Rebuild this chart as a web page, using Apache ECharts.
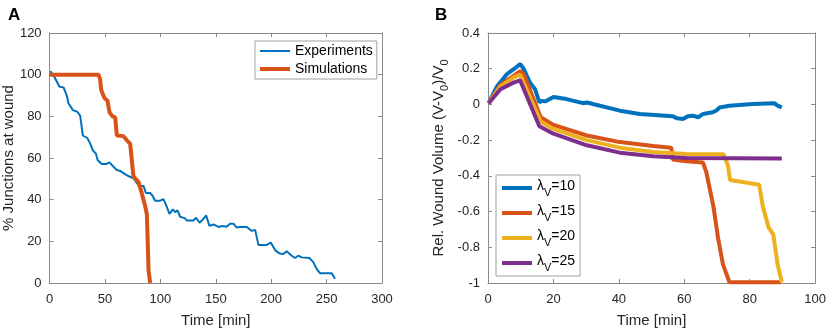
<!DOCTYPE html>
<html>
<head>
<meta charset="utf-8">
<script src="https://cdn.jsdelivr.net/npm/echarts@6/dist/echarts.min.js"></script>
<style>
  html, body { margin: 0; padding: 0; background: #fff; }
  #chart { width: 829px; height: 333px; }
</style>
</head>
<body>
<div id="chart"></div>
<script>
// Panel A: % junctions at wound
const expTime = [0.6, 3.6, 5, 9, 12.6, 15.6, 17, 21, 25, 27.6, 30, 34, 36.7, 39, 41.8, 43.3, 47, 51, 54, 57.7,
  60.7, 63.7, 68, 72, 75.7, 78.8, 81.8, 84.8, 86.9, 90.8, 92.9, 95.3, 99.8, 102.8, 105, 108.2, 111.2, 113.3, 115.4, 117.8,
  122.3, 123.8, 129.8, 132.2, 135.3, 138.3, 141.3, 144.3, 147.9, 152.4, 156.3, 159.9, 162.9, 165.9, 168.9, 171.9, 177.9, 182.4, 185.5, 188.5,
  196, 199.6, 203.5, 207.4, 211, 214, 218.5, 221.5, 224.5, 227.5, 234.4, 238, 241, 244, 254.6, 257.6];
const expPct = [101.7, 99.6, 99, 94.2, 93.9, 89.8, 86.3, 83, 82.2, 80.3, 70.8, 69.6, 66.9, 63.7, 62.1, 59, 57.1, 57.1, 57.9, 55.8,
  54.2, 53.8, 52.3, 51.1, 50.3, 47.9, 46.6, 46.6, 43.2, 43.2, 41.9, 39.5, 39.5, 40.3, 37.6, 33.2, 35.3, 34, 34.9, 31.8,
  31, 30, 30, 31.3, 28.9, 30.5, 32.4, 27.4, 28.1, 26.9, 27.4, 27, 28.5, 28.5, 26.6, 26.9, 26.9, 25, 25.5, 18.3,
  18.3, 19.4, 15.8, 14.2, 13.9, 15.2, 13.1, 12, 13.1, 12.3, 12, 10, 6.8, 4.7, 4.7, 2];
const simTime = [0, 44.2, 45.6, 46.6, 49.3, 52.3, 54.1, 56.8, 59.2, 60.7, 66.7, 69.7, 72.7, 75.7, 80.3, 82.7, 86.3, 87.8, 89.3, 90.8];
const simPct = [100, 100, 97.7, 92.6, 89, 87.4, 81.9, 80, 79.5, 70.8, 70.5, 68.5, 66.9, 51.1, 48.4, 44, 36.8, 32.9, 6, 0];

// Panel B: relative wound volume for four lambda_V values
const l10Time = [0.2, 2.7, 5.8, 8.8, 9.8, 10.9, 12.9, 14.4, 15.7, 16.4, 17.5, 20, 24, 29, 30.2, 40.3, 46.4, 56.5, 57.8, 59.6,
  61.1, 62.6, 64.2, 65.7, 68.7, 69.7, 70.8, 73.8, 80.9, 87.5, 88.5, 89.8];
const l10Vol = [0.007, 0.1, 0.17, 0.21, 0.227, 0.2, 0.12, 0.085, 0.011, 0.02, 0.017, 0.042, 0.03, 0.007, 0.011, -0.035, -0.054, -0.066, -0.078, -0.081,
  -0.066, -0.063, -0.072, -0.054, -0.044, -0.035, -0.017, -0.007, 0.002, 0.007, -0.007, -0.017];
const l15Time = [0.2, 3.8, 7.8, 9.8, 10.9, 16.1, 20, 30.2, 40.3, 50.5, 56, 56.5, 60.6, 65.7, 66.7, 68.9, 70.3, 71.8, 73.8, 89.5];
const l15Vol = [0.007, 0.11, 0.16, 0.187, 0.17, -0.072, -0.115, -0.174, -0.211, -0.233, -0.242, -0.308, -0.318, -0.325, -0.377, -0.571, -0.746, -0.894, -0.996, -0.996];
const l20Time = [0.2, 3.8, 7.8, 9.8, 16.1, 20, 30.2, 40.3, 50.5, 60.6, 72, 73.3, 74, 82.9, 84, 85.8, 87.2, 88.5, 89.8];
const l20Vol = [0.007, 0.1, 0.15, 0.168, -0.096, -0.137, -0.2, -0.242, -0.266, -0.277, -0.279, -0.34, -0.423, -0.45, -0.571, -0.69, -0.728, -0.894, -0.996];
const l25Time = [0.2, 3.8, 7.8, 9.8, 15.7, 20, 30.2, 40.3, 50.5, 60.6, 89.8];
const l25Vol = [0.007, 0.085, 0.122, 0.135, -0.122, -0.164, -0.229, -0.27, -0.29, -0.3, -0.303];

const lambdaNames = ['10', '15', '20', '25'];

const zip = (xs, ys) => xs.map((x, i) => [x, ys[i]]);

const FONT = 'Liberation Sans, Arial, sans-serif';
const TXT = '#262626';
const AX = '#8a8a8a';

// base axis look (MATLAB style box with inward ticks)
function axisBase(extra) {
  return Object.assign({
    type: 'value',
    axisLine: { show: true, onZero: false, lineStyle: { color: AX, width: 1 } },
    axisTick: { show: true, inside: true, length: 4, lineStyle: { color: AX } },
    axisLabel: { color: TXT, fontSize: 13, fontFamily: FONT, margin: 8 },
    splitLine: { show: false }
  }, extra);
}
function mirror(extra) {
  const a = axisBase(extra);
  a.axisLabel = { show: false };
  a.name = '';
  return a;
}

const xA = { gridIndex: 0, min: 0, max: 300, interval: 50 };
const yA = { gridIndex: 0, min: 0, max: 120, interval: 20 };
const xB = { gridIndex: 1, min: 0, max: 100, interval: 20 };
const yB = { gridIndex: 1, min: -1, max: 0.4, interval: 0.2 };

const nameStyle = { color: TXT, fontSize: 15, fontFamily: FONT };
const xLabel = { color: TXT, fontSize: 13, fontFamily: FONT, margin: 10 };

const option = {
  animation: false,
  backgroundColor: '#fff',
  title: [
    { text: 'A', left: 3, top: 2, textStyle: { fontSize: 17, fontWeight: 'bold', color: '#000', fontFamily: FONT } },
    { text: 'B', left: 430, top: 2, textStyle: { fontSize: 17, fontWeight: 'bold', color: '#000', fontFamily: FONT } }
  ],
  grid: [
    { left: 49.5, right: 447, top: 33, bottom: 47 },
    { left: 488, right: 13, top: 33, bottom: 47 }
  ],
  xAxis: [
    axisBase(Object.assign({}, xA, { name: 'Time [min]', nameLocation: 'middle', nameGap: 30, nameTextStyle: nameStyle, axisLabel: xLabel })),
    mirror(Object.assign({}, xA, { position: 'top' })),
    axisBase(Object.assign({}, xB, { name: 'Time [min]', nameLocation: 'middle', nameGap: 30, nameTextStyle: nameStyle, axisLabel: xLabel })),
    mirror(Object.assign({}, xB, { position: 'top' }))
  ],
  yAxis: [
    axisBase(Object.assign({}, yA, { name: '% Junctions at wound', nameLocation: 'middle', nameGap: 32, nameTextStyle: nameStyle })),
    mirror(Object.assign({}, yA, { position: 'right' })),
    axisBase(Object.assign({}, yB, {
      name: '{n|Rel. Wound Volume (V-V}{s|0}{n|)/V}{s|0}',
      nameLocation: 'middle', nameGap: 37,
      nameTextStyle: {
        color: TXT, fontFamily: FONT,
        rich: {
          n: { fontSize: 15, color: TXT, fontFamily: FONT, verticalAlign: 'top', lineHeight: 20 },
          s: { fontSize: 11, color: TXT, fontFamily: FONT, verticalAlign: 'top', padding: [8, 0, 0, 0], lineHeight: 20 }
        }
      },
      axisLabel: { color: TXT, fontSize: 13, fontFamily: FONT, margin: 8,
        formatter: v => (Math.abs(v) < 1e-9 ? '0' : String(+v.toFixed(1))) }
    })),
    mirror(Object.assign({}, yB, { position: 'right' }))
  ],
  legend: [
    {
      left: 255, top: 41,
      orient: 'vertical',
      backgroundColor: '#fff',
      borderColor: '#a0a0a0', borderWidth: 1,
      padding: [3, 4, 3, 3],
      itemWidth: 30, itemHeight: 14, itemGap: 4,
      itemStyle: { opacity: 0 },
      lineStyle: { width: 'inherit' },
      textStyle: { color: '#000', fontSize: 14, fontFamily: FONT },
      data: ['Experiments', 'Simulations']
    },
    {
      left: 496, top: 175,
      orient: 'vertical',
      backgroundColor: '#fff',
      borderColor: '#a0a0a0', borderWidth: 1,
      padding: [4, 5, 3, 4],
      itemWidth: 30, itemHeight: 16, itemGap: 6,
      itemStyle: { opacity: 0 },
      lineStyle: { width: 'inherit' },
      data: lambdaNames.map(n => 'λ=' + n),
      formatter: name => '{l|λ}{s|V}{l|=' + name.slice(2) + '}',
      textStyle: {
        color: '#000', fontFamily: FONT,
        rich: {
          l: { fontSize: 14, color: '#000', fontFamily: FONT, verticalAlign: 'top', lineHeight: 18 },
          s: { fontSize: 11, color: '#000', fontFamily: FONT, verticalAlign: 'top', padding: [8, 0, 0, 0], lineHeight: 18 }
        }
      }
    }
  ],
  series: [
    { name: 'Experiments', type: 'line', xAxisIndex: 0, yAxisIndex: 0, symbol: 'none',
      lineStyle: { color: '#0072BD', width: 2 }, itemStyle: { color: '#0072BD' },
      data: zip(expTime, expPct) },
    { name: 'Simulations', type: 'line', xAxisIndex: 0, yAxisIndex: 0, symbol: 'none',
      lineStyle: { color: '#D95319', width: 4 }, itemStyle: { color: '#D95319' },
      data: zip(simTime, simPct) },
    { name: 'λ=10', type: 'line', xAxisIndex: 2, yAxisIndex: 2, symbol: 'none',
      lineStyle: { color: '#0072BD', width: 4 }, itemStyle: { color: '#0072BD' },
      data: zip(l10Time, l10Vol) },
    { name: 'λ=15', type: 'line', xAxisIndex: 2, yAxisIndex: 2, symbol: 'none',
      lineStyle: { color: '#D95319', width: 4 }, itemStyle: { color: '#D95319' },
      data: zip(l15Time, l15Vol) },
    { name: 'λ=20', type: 'line', xAxisIndex: 2, yAxisIndex: 2, symbol: 'none',
      lineStyle: { color: '#EDB120', width: 4 }, itemStyle: { color: '#EDB120' },
      data: zip(l20Time, l20Vol) },
    { name: 'λ=25', type: 'line', xAxisIndex: 2, yAxisIndex: 2, symbol: 'none',
      lineStyle: { color: '#7E2F8E', width: 4 }, itemStyle: { color: '#7E2F8E' },
      data: zip(l25Time, l25Vol) }
  ]
};

const chart = echarts.init(document.getElementById('chart'));
chart.setOption(option);
window.addEventListener('resize', () => chart.resize());
</script>
</body>
</html>
